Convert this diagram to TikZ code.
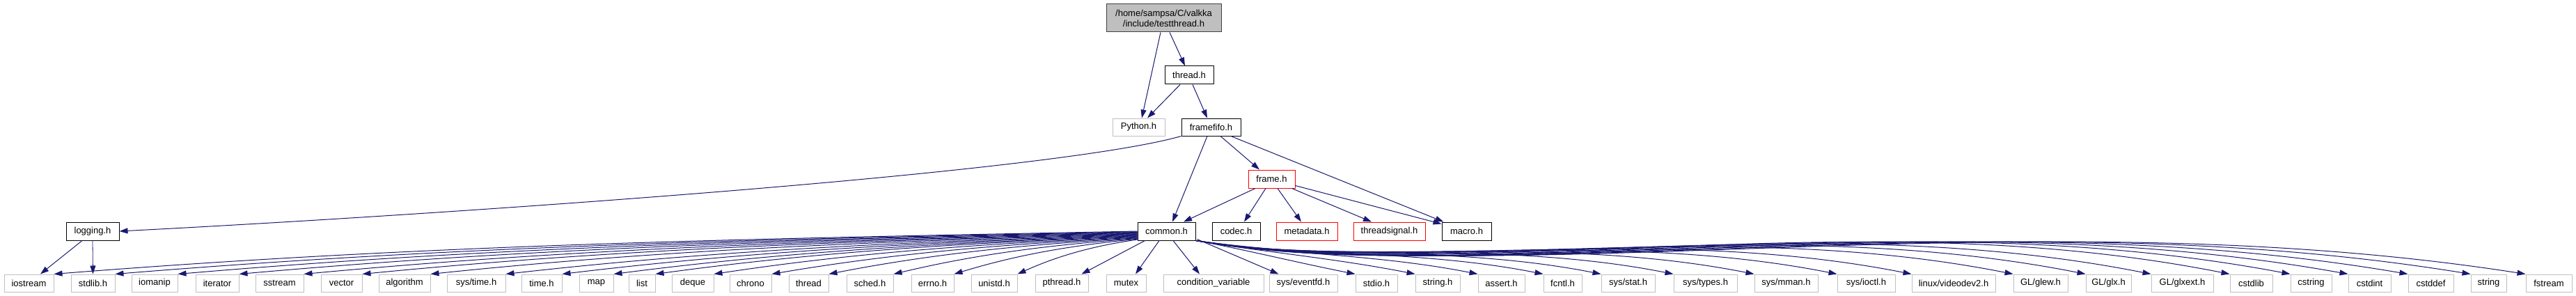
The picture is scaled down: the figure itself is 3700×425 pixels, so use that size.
\documentclass[tikz,border=0pt]{standalone}
\usepackage{fontspec}
\setmainfont{Liberation Sans}
\usetikzlibrary{arrows.meta,calc}
\definecolor{edgeblue}{HTML}{191970}
\definecolor{lgray}{HTML}{BFBFBF}
\definecolor{fillgray}{HTML}{BFBFBF}
\begin{document}
\begin{tikzpicture}[x=1pt,y=-1pt,
  base/.style={rectangle, inner sep=0pt, line width=1pt, fill=white, text=black, font=\fontsize{13}{15}\selectfont},
  blk/.style={base, draw=black, minimum height=26pt},
  redb/.style={base, draw=red, minimum height=26pt},
  sysb/.style={base, draw=lgray, minimum height=25pt},
  e/.style={draw=edgeblue, line width=1pt, -{Triangle[length=12pt,width=8pt]}},
]
\fill[white] (0,0) rectangle (3700,425);
\useasboundingbox (0,0) rectangle (3700,425);

% upper nodes
\node[base, draw=black!75, fill=fillgray, minimum width=165pt, minimum height=40pt, align=center] (main) at (1671.5,26) {/home/sampsa/C/valkka\\/include/testthread.h};
\node[blk, minimum width=70pt] (threadh) at (1708,108) {thread.h};
\node[sysb, minimum width=75pt] (Python) at (1635.5,182.5) {Python.h};
\node[blk, minimum width=85pt, minimum height=25pt] (framefifo) at (1739.5,182.5) {framefifo.h};
\node[redb, minimum width=67pt] (frame) at (1826.5,257) {frame.h};
\node[blk, minimum width=76pt] (logging) at (133,332) {logging.h};
\node[blk, minimum width=83pt] (common) at (1675.5,332) {common.h};
\node[blk, minimum width=69pt] (codec) at (1775.5,332) {codec.h};
\node[redb, minimum width=88pt] (metadata) at (1877,332) {metadata.h};
\node[redb, minimum width=103pt] (threadsignal) at (1995.5,332) {threadsignal.h};
\node[blk, minimum width=71pt] (macro) at (2106.5,332) {macro.h};

% bottom row
\node[sysb, minimum width=71pt] (iostream) at (41.5,406.5) {iostream};
\node[sysb, minimum width=63pt] (stdlib) at (133.5,406.5) {stdlib.h};
\node[sysb, minimum width=66pt] (iomanip) at (222,406.5) {iomanip};
\node[sysb, minimum width=62pt] (iterator) at (312,406.5) {iterator};
\node[sysb, minimum width=69pt] (sstream) at (401.5,406.5) {sstream};
\node[sysb, minimum width=59pt] (vector) at (490.5,406.5) {vector};
\node[sysb, minimum width=74pt] (algorithm) at (581,406.5) {algorithm};
\node[sysb, minimum width=84pt] (systime) at (684,406.5) {sys/time.h};
\node[sysb, minimum width=58pt] (timeh) at (778,406.5) {time.h};
\node[sysb, minimum width=49pt] (map) at (856.5,406.5) {map};
\node[sysb, minimum width=38pt] (list) at (922,406.5) {list};
\node[sysb, minimum width=60pt] (deque) at (995,406.5) {deque};
\node[sysb, minimum width=60pt] (chrono) at (1078,406.5) {chrono};
\node[sysb, minimum width=57pt] (threadstd) at (1161.5,406.5) {thread};
\node[sysb, minimum width=67pt] (sched) at (1249.5,406.5) {sched.h};
\node[sysb, minimum width=61pt] (errno) at (1339.5,406.5) {errno.h};
\node[sysb, minimum width=66pt] (unistd) at (1428,406.5) {unistd.h};
\node[sysb, minimum width=76pt] (pthread) at (1525,406.5) {pthread.h};
\node[sysb, minimum width=57pt] (mutex) at (1617.5,406.5) {mutex};
\node[sysb, minimum width=144pt] (condvar) at (1743,406.5) {condition\_variable};
\node[sysb, minimum width=98pt] (eventfd) at (1872,406.5) {sys/eventfd.h};
\node[sysb, minimum width=60pt] (stdio) at (1977,406.5) {stdio.h};
\node[sysb, minimum width=64pt] (stringh) at (2065,406.5) {string.h};
\node[sysb, minimum width=67pt] (assert) at (2156.5,406.5) {assert.h};
\node[sysb, minimum width=55pt] (fcntl) at (2244.5,406.5) {fcntl.h};
\node[sysb, minimum width=77pt] (sysstat) at (2338.5,406.5) {sys/stat.h};
\node[sysb, minimum width=91pt] (systypes) at (2449.5,406.5) {sys/types.h};
\node[sysb, minimum width=91pt] (sysmman) at (2565.5,406.5) {sys/mman.h};
\node[sysb, minimum width=83pt] (sysioctl) at (2680.5,406.5) {sys/ioctl.h};
\node[sysb, minimum width=120pt] (videodev) at (2806,406.5) {linux/videodev2.h};
\node[sysb, minimum width=78pt] (glew) at (2931,406.5) {GL/glew.h};
\node[sysb, minimum width=65pt] (glx) at (3028.5,406.5) {GL/glx.h};
\node[sysb, minimum width=89pt] (glxext) at (3134.5,406.5) {GL/glxext.h};
\node[sysb, minimum width=61pt] (cstdlib) at (3233.5,406.5) {cstdlib};
\node[sysb, minimum width=59pt] (cstring) at (3319.5,406.5) {cstring};
\node[sysb, minimum width=61pt] (cstdint) at (3403.5,406.5) {cstdint};
\node[sysb, minimum width=65pt] (cstddef) at (3491.5,406.5) {cstddef};
\node[sysb, minimum width=51pt] (stringstd) at (3574.5,406.5) {string};
\node[sysb, minimum width=66pt] (fstream) at (3661,406.5) {fstream};

% upper edges
\draw[e] ([xshift=-4.5pt]main.south) -- ([xshift=4.5pt]Python.north);
\draw[e] ([xshift=8.5pt]main.south) -- ([xshift=-6pt]threadh.north);
\draw[e] ([xshift=-13pt]threadh.south) -- ([xshift=12.5pt]Python.north);
\draw[e] ([xshift=5pt]threadh.south) -- ([xshift=-5.5pt]framefifo.north);
\draw[e] (framefifo.south west) .. controls +(-195,55) and +(429,-22) .. (logging.east);
\draw[e] ([xshift=-5.5pt]framefifo.south) -- ([xshift=8.5pt]common.north);
\draw[e] ([xshift=13.5pt]framefifo.south) -- ([xshift=-17.5pt]frame.north);
\draw[e] ([xshift=28.5pt]framefifo.south) -- ([xshift=3pt]macro.north west);
\draw[e] ([xshift=-23.5pt]frame.south) -- ([xshift=24.5pt]common.north);
\draw[e] ([xshift=-8.5pt]frame.south) -- ([xshift=11.5pt]codec.north);
\draw[e] ([xshift=8.5pt]frame.south) -- ([xshift=-8pt]metadata.north);
\draw[e] ([xshift=-5pt]frame.south east) -- ([xshift=-25.5pt]threadsignal.north);
\draw[e] ([yshift=4pt]frame.south east) -- ([yshift=-3pt]macro.north west);
\draw[e] ([xshift=-15pt]logging.south) -- ([xshift=16.5pt]iostream.north);
\draw[e, line width=0.8pt] (logging.south) -- (stdlib.north);

% common.h straight edges
\draw[e] ([xshift=11pt]common.south west) -- ([xshift=-10pt]pthread.north east);
\draw[e] ([xshift=-10.5pt]common.south) -- ([xshift=13.5pt]mutex.north);
\draw[e] ([xshift=9.5pt]common.south) -- ([xshift=-20pt]condvar.north);
\draw[e] ([xshift=2pt,yshift=2pt]common.south east) -- ([xshift=14pt]eventfd.north west);

% common.h curved edges to the left
\foreach \t/\s in {iostream/0, stdlib/0.75, iomanip/1.5, iterator/2.25, sstream/3, vector/3.75, algorithm/4.5, systime/5.25, timeh/6, map/6.75, list/7.5, deque/8.25, chrono/9, threadstd/9.75, sched/10.5, errno/11.25, unistd/12}{
  \draw[e] let \p1=([yshift=-\s*1pt]common.west), \p2=(\t.north east),
     \n1={0.35*(\x1-\x2)}, \n2={(\y1-\y2)/(\x1-\x2)} in
     (\p1) .. controls ({\x1-\n1},{\y1-0.5*\n2*\n1}) and ({\x2+\n1},{\y2+(1.5*\n2+0.02)*\n1}) .. (\p2);
}

% common.h curved edges to the right
\foreach \t in {stdio, stringh, assert, fcntl, sysstat, systypes, sysmman, sysioctl, videodev, glew, glx, glxext, cstdlib, cstring, cstdint, cstddef, stringstd, fstream}{
  \draw[e] let \p1=([xshift=1pt]common.south east), \p2=(\t.north west),
    \n1={\x2-\x1}, \n3={min(1,(\x2-\x1)/1500pt)} in
    (\p1) .. controls ({\x1+0.26*\n1},{\y1-70*\n3}) and ({\x2-0.37*\n1},{\y2+110*\n3}) .. (\p2);
}
\end{tikzpicture}
\end{document}
